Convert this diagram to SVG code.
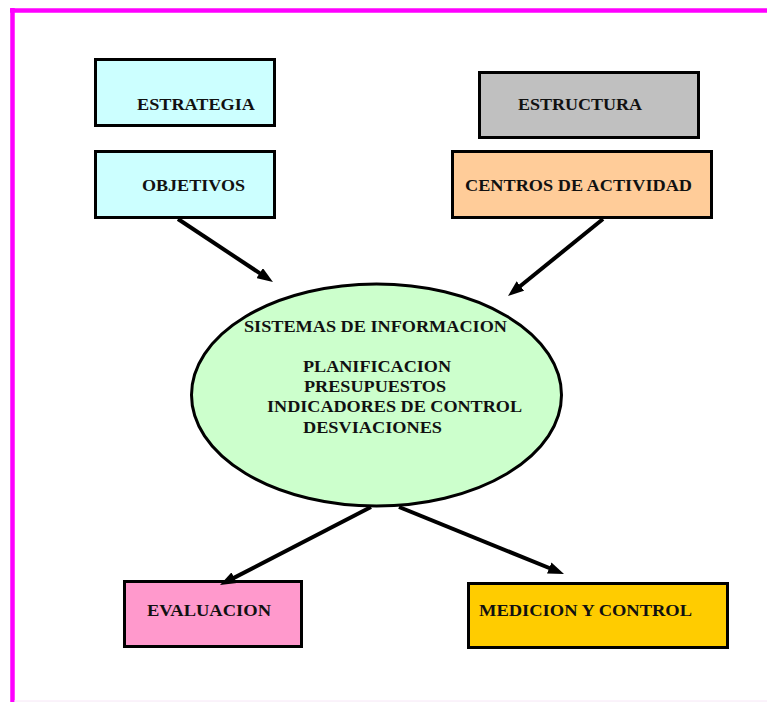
<svg xmlns="http://www.w3.org/2000/svg" width="767" height="702" viewBox="0 0 767 702">
  <style>
    .box { stroke: #000; stroke-width: 3; }
    .lbl { font-family: "Liberation Serif", "Times New Roman", serif; font-weight: bold; font-size: 17px; fill: #111; }
    .conn { stroke: #000; stroke-width: 4; fill: none; marker-end: url(#head); }
    .frame { stroke: #ff00ff; stroke-width: 4.5; fill: none; }
  </style>
  <defs>
    <marker id="head" viewBox="0 0 16 12" markerWidth="16" markerHeight="12" refX="8" refY="6" orient="auto" markerUnits="userSpaceOnUse">
      <path d="M0,0 L16,6 L0,12 z" fill="#000"/>
    </marker>
  </defs>

  <rect width="767" height="702" fill="#fff"/>

  <!-- page frame -->
  <line class="frame" x1="10" y1="10.5" x2="767" y2="10.5"/>
  <line class="frame" x1="12.5" y1="8" x2="12.5" y2="702"/>
  <line x1="14" y1="701" x2="767" y2="701" stroke="#f6e6f6" stroke-width="1"/>

  <g id="estrategia">
    <rect class="box" x="95.5" y="59.5" width="179" height="66" fill="#ccffff"/>
    <text class="lbl" x="137" y="110" textLength="118" lengthAdjust="spacingAndGlyphs">ESTRATEGIA</text>
  </g>

  <g id="objetivos">
    <rect class="box" x="95.5" y="151.5" width="179" height="66" fill="#ccffff"/>
    <text class="lbl" x="142" y="191" textLength="103" lengthAdjust="spacingAndGlyphs">OBJETIVOS</text>
  </g>

  <g id="estructura">
    <rect class="box" x="479.5" y="72.5" width="219" height="65" fill="#c0c0c0"/>
    <text class="lbl" x="518" y="110" textLength="124" lengthAdjust="spacingAndGlyphs">ESTRUCTURA</text>
  </g>

  <g id="centros">
    <rect class="box" x="452.5" y="151.5" width="259" height="66" fill="#ffcc99"/>
    <text class="lbl" x="465" y="191" textLength="227" lengthAdjust="spacingAndGlyphs">CENTROS DE ACTIVIDAD</text>
  </g>

  <g id="sistemas">
    <ellipse class="box" cx="376.5" cy="395" rx="185" ry="111" fill="#ccffcc"/>
    <text class="lbl" x="244" y="332" textLength="263" lengthAdjust="spacingAndGlyphs">SISTEMAS DE INFORMACION</text>
    <text class="lbl" x="303" y="372" textLength="148" lengthAdjust="spacingAndGlyphs">PLANIFICACION</text>
    <text class="lbl" x="304" y="392" textLength="142" lengthAdjust="spacingAndGlyphs">PRESUPUESTOS</text>
    <text class="lbl" x="267" y="412" textLength="255" lengthAdjust="spacingAndGlyphs">INDICADORES DE CONTROL</text>
    <text class="lbl" x="303" y="433" textLength="139" lengthAdjust="spacingAndGlyphs">DESVIACIONES</text>
  </g>

  <g id="evaluacion">
    <rect class="box" x="124.5" y="581.5" width="177" height="65" fill="#ff99cc"/>
    <text class="lbl" x="147" y="616" textLength="124" lengthAdjust="spacingAndGlyphs">EVALUACION</text>
  </g>

  <g id="medicion">
    <rect class="box" x="468.5" y="583.5" width="259" height="64" fill="#ffcc00"/>
    <text class="lbl" x="479" y="616" textLength="213" lengthAdjust="spacingAndGlyphs">MEDICION Y CONTROL</text>
  </g>

  <g id="connectors">
    <line class="conn" x1="178" y1="219" x2="266.3" y2="277.6"/>
    <line class="conn" x1="603" y1="219" x2="514.2" y2="291"/>
    <line class="conn" x1="371" y1="507" x2="227.1" y2="581.4"/>
    <line class="conn" x1="399" y1="507" x2="556.6" y2="571"/>
  </g>
</svg>
